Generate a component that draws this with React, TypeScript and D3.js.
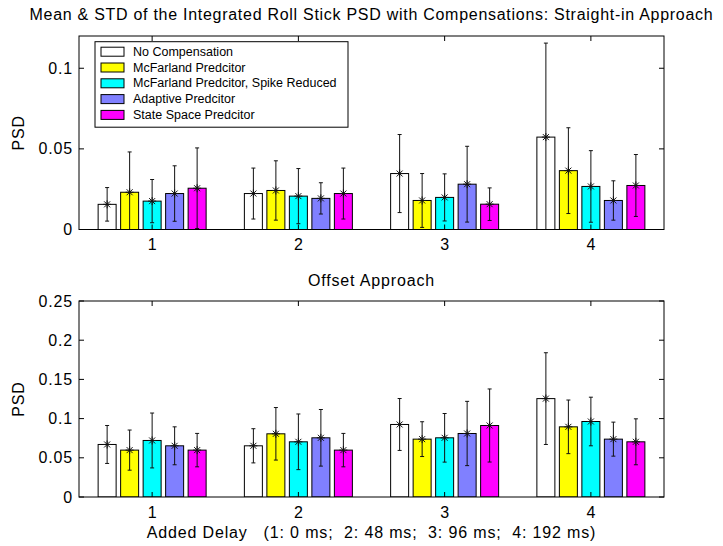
import React from "react";
import * as d3 from "d3";

const groups = [1, 2, 3, 4];
const groupLabels = ["1", "2", "3", "4"];
const seriesNames = [
  "No Compensation",
  "McFarland Predcitor",
  "McFarland Predcitor, Spike Reduced",
  "Adaptive Predcitor",
  "State Space Predcitor",
];
const seriesColors = ["#ffffff", "#ffff00", "#00ffff", "#8080ff", "#ff00ff"];

// rows = groups (delay 1..4), cols = series
const straightMean = [
  [0.0156, 0.0231, 0.0176, 0.0223, 0.0256],
  [0.0223, 0.0242, 0.0207, 0.0193, 0.0223],
  [0.0347, 0.018, 0.0199, 0.0281, 0.0157],
  [0.0573, 0.0365, 0.0267, 0.018, 0.0273],
];
const straightStd = [
  [0.0104, 0.025, 0.0134, 0.0172, 0.025],
  [0.0158, 0.0184, 0.0171, 0.0097, 0.0158],
  [0.0242, 0.0167, 0.0146, 0.0235, 0.0101],
  [0.0583, 0.0266, 0.0222, 0.0122, 0.0192],
];
const offsetMean = [
  [0.067, 0.0598, 0.0721, 0.0653, 0.0598],
  [0.0653, 0.0806, 0.0704, 0.0755, 0.0598],
  [0.0925, 0.0738, 0.0755, 0.081, 0.0912],
  [0.1255, 0.0895, 0.0963, 0.0738, 0.0704],
];
const offsetStd = [
  [0.0242, 0.0256, 0.035, 0.0242, 0.0213],
  [0.0218, 0.0335, 0.0355, 0.0361, 0.0213],
  [0.0331, 0.0222, 0.031, 0.041, 0.0466],
  [0.0585, 0.0342, 0.031, 0.0217, 0.0293],
];
const straightTicks = [0, 0.05, 0.1];
const straightTickLabels = ["0", "0.05", "0.1"];
const offsetTicks = [0, 0.05, 0.1, 0.15, 0.2, 0.25];
const offsetTickLabels = ["0", "0.05", "0.1", "0.15", "0.2", "0.25"];

const titleText =
  "Mean & STD of the Integrated Roll Stick PSD with Compensations: Straight-in Approach";
const subTitleText = "Offset Approach";
const xLabelText = "Added Delay   (1: 0 ms;  2: 48 ms;  3: 96 ms;  4: 192 ms)";
const yLabelText = "PSD";

const FONT = "'Liberation Sans', Arial, Helvetica, sans-serif";
const FS = 16;
const LS = 0.85;
const L = 79;
const R = 664;

const nSeries = seriesNames.length;
const groupWidth = Math.min(0.8, nSeries / (nSeries + 1.5));
const step = groupWidth / nSeries;
const barW = step * 0.8;

function Panel(props: {
  id: string;
  top: number;
  bottom: number;
  yMax: number;
  means: number[][];
  stds: number[][];
  ticks: number[];
  tickLabels: string[];
}) {
  const { id, top, bottom, yMax, means, stds, ticks, tickLabels } = props;
  const x = d3.scaleLinear().domain([0.5, 4.5]).range([L, R]);
  const y = d3.scaleLinear().domain([0, yMax]).range([bottom, top]);
  const tl = 5;
  const cap = 2;
  const ms = 4;
  return (
    <g>
      <defs>
        <clipPath id={id}>
          <rect x={L} y={top} width={R - L} height={bottom - top} />
        </clipPath>
      </defs>
      <g clipPath={`url(#${id})`}>
        {groups.map((g, gi) =>
          seriesNames.map((_, si) => {
            const cx = g + (si - (nSeries - 1) / 2) * step;
            const x0 = x(cx - barW / 2);
            const x1 = x(cx + barW / 2);
            const m = means[gi][si];
            return (
              <rect
                key={`b${gi}-${si}`}
                x={x0}
                y={y(m)}
                width={x1 - x0}
                height={y(0) - y(m)}
                fill={seriesColors[si]}
                stroke="#000"
                strokeWidth={1}
              />
            );
          })
        )}
        {groups.map((g, gi) =>
          seriesNames.map((_, si) => {
            const cx = x(g + (si - (nSeries - 1) / 2) * step);
            const m = means[gi][si];
            const s = stds[gi][si];
            const yt = y(m + s);
            const yb = y(m - s);
            const ym = y(m);
            return (
              <g key={`e${gi}-${si}`} stroke="#111" strokeWidth={1} fill="none">
                <line x1={cx} x2={cx} y1={yt} y2={yb} />
                <line x1={cx - cap} x2={cx + cap} y1={yt} y2={yt} />
                <line x1={cx - cap} x2={cx + cap} y1={yb} y2={yb} />
                <line x1={cx - ms} x2={cx + ms} y1={ym} y2={ym} />
                <line x1={cx} x2={cx} y1={ym - ms} y2={ym + ms} />
                <line x1={cx - ms * 0.75} x2={cx + ms * 0.75} y1={ym - ms * 0.75} y2={ym + ms * 0.75} />
                <line x1={cx - ms * 0.75} x2={cx + ms * 0.75} y1={ym + ms * 0.75} y2={ym - ms * 0.75} />
              </g>
            );
          })
        )}
      </g>
      {/* box */}
      <rect x={L} y={top} width={R - L} height={bottom - top} fill="none" stroke="#000" strokeWidth={1} />
      {/* y ticks */}
      {ticks.map((t, i) => (
        <g key={`yt${i}`}>
          <line x1={L} x2={L + tl} y1={y(t)} y2={y(t)} stroke="#000" />
          <line x1={R} x2={R - tl} y1={y(t)} y2={y(t)} stroke="#000" />
          <text
            x={L - 6}
            y={y(t)}
            textAnchor="end"
            dominantBaseline="central"
            fontFamily={FONT}
            fontSize={FS}
            letterSpacing={LS}
          >
            {tickLabels[i]}
          </text>
        </g>
      ))}
      {/* x ticks */}
      {groups.map((g, i) => (
        <g key={`xt${i}`}>
          <line x1={x(g)} x2={x(g)} y1={top} y2={top + tl} stroke="#000" />
          <line x1={x(g)} x2={x(g)} y1={bottom} y2={bottom - tl} stroke="#000" />
          <text
            x={x(g)}
            y={bottom + 15}
            textAnchor="middle"
            dominantBaseline="central"
            fontFamily={FONT}
            fontSize={FS}
          >
            {groupLabels[i]}
          </text>
        </g>
      ))}
      <text
        transform={`translate(18,${(top + bottom) / 2}) rotate(-90)`}
        textAnchor="middle"
        dominantBaseline="central"
        fontFamily={FONT}
        fontSize={FS}
        letterSpacing={LS}
      >
        {yLabelText}
      </text>
    </g>
  );
}

export default function App() {
  const legX = 95;
  const legY = 41.7;
  const rowY0 = 51.7;
  const rowStep = 15.8;
  return (
    <svg
      width={723}
      height={546}
      style={{ position: "absolute", left: 0, top: 0, background: "#fff" }}
    >
      <rect x={0} y={0} width={723} height={546} fill="#fff" />
      <text x={(L + R) / 2} y={20} textAnchor="middle" fontFamily={FONT} fontSize={FS} letterSpacing={0.72}>
        {titleText}
      </text>
      <Panel
        id="clipTop"
        top={36}
        bottom={229.5}
        yMax={0.12}
        means={straightMean}
        stds={straightStd}
        ticks={straightTicks}
        tickLabels={straightTickLabels}
      />
      <text x={(L + R) / 2} y={285.5} textAnchor="middle" fontFamily={FONT} fontSize={FS} letterSpacing={LS}>
        {subTitleText}
      </text>
      <Panel
        id="clipBot"
        top={301}
        bottom={497}
        yMax={0.25}
        means={offsetMean}
        stds={offsetStd}
        ticks={offsetTicks}
        tickLabels={offsetTickLabels}
      />
      <text x={(L + R) / 2} y={532.5} textAnchor="middle" dominantBaseline="central" fontFamily={FONT} fontSize={FS} letterSpacing={LS} style={{ whiteSpace: "pre" }}>
        {xLabelText}
      </text>
      {/* legend */}
      <rect x={legX} y={legY} width={253} height={85.5} fill="#fff" stroke="#000" strokeWidth={1} />
      {seriesNames.map((name, i) => {
        const cy = rowY0 + i * rowStep;
        return (
          <g key={`lg${i}`}>
            <rect x={101} y={cy - 4.5} width={23} height={9} fill={seriesColors[i]} stroke="#000" strokeWidth={1} />
            <text x={133} y={cy} dominantBaseline="central" fontFamily={FONT} fontSize={12.5}>
              {name}
            </text>
          </g>
        );
      })}
    </svg>
  );
}
